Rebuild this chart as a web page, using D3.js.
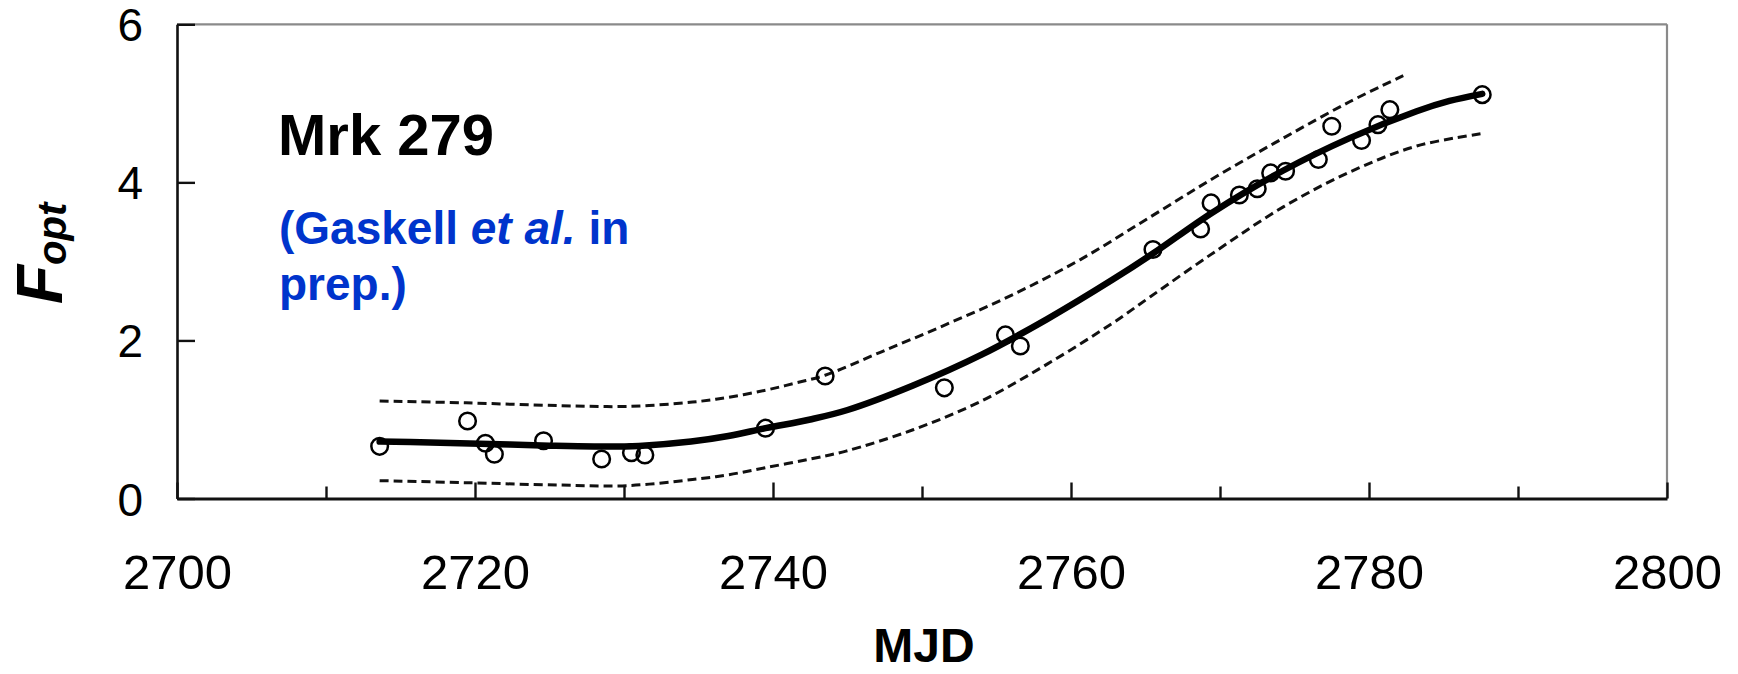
<!DOCTYPE html>
<html>
<head>
<meta charset="utf-8">
<script src="https://cdn.jsdelivr.net/npm/d3@7"></script>
<style>
  html, body { margin: 0; padding: 0; background: #fff; }
  svg { display: block; }
  text { font-family: "Liberation Sans", Arial, Helvetica, sans-serif; }
</style>
</head>
<body>
<svg id="chart" width="1738" height="674"></svg>
<script>
// ---- data ----
const obsMJD  = [2713.6, 2719.5, 2720.7, 2721.3, 2724.6, 2728.5, 2730.5, 2731.4, 2739.5, 2743.5,
                 2751.5, 2755.6, 2756.6, 2765.5, 2768.7, 2769.4, 2771.3, 2772.5, 2773.4, 2774.4,
                 2776.6, 2777.5, 2779.5, 2780.6, 2781.4, 2787.6];
const obsFlux = [0.66, 0.98, 0.70, 0.56, 0.73, 0.50, 0.58, 0.55, 0.89, 1.55,
                 1.40, 2.07, 1.93, 3.15, 3.41, 3.74, 3.84, 3.92, 4.12, 4.14,
                 4.29, 4.71, 4.53, 4.73, 4.92, 5.11];

const fitMJD  = [2713.6, 2717, 2721, 2725, 2728, 2731, 2734.5, 2737, 2739.5, 2742.5, 2745,
                 2749.4, 2754, 2758.4, 2762.8, 2765.5, 2769.5, 2774.25, 2778.7, 2783.2, 2785.4, 2787.6];
const fitFlux = [0.72, 0.71, 0.69, 0.668, 0.658, 0.665, 0.72, 0.79, 0.89, 1.00, 1.12,
                 1.43, 1.82, 2.27, 2.77, 3.10, 3.62, 4.15, 4.56, 4.90, 5.03, 5.12];

const upperMJD  = [2713.6, 2719.4, 2725.7, 2730.2, 2734.6, 2737, 2739.5, 2741.5, 2743.5, 2747.2,
                   2751.6, 2756.1, 2760.6, 2765.3, 2769.8, 2774.25, 2778.7, 2782.3];
const upperFlux = [1.234, 1.21, 1.175, 1.165, 1.22, 1.28, 1.37, 1.46, 1.56, 1.85,
                   2.20, 2.58, 3.02, 3.56, 4.08, 4.56, 5.02, 5.35];

const lowerMJD  = [2713.6, 2719.4, 2725.7, 2730.2, 2734.6, 2737, 2739.5, 2742.5, 2744.9, 2749.4,
                   2753.9, 2758.4, 2762.8, 2765.3, 2769.8, 2774.25, 2778.7, 2783.2, 2787.7];
const lowerFlux = [0.226, 0.20, 0.17, 0.163, 0.24, 0.30, 0.39, 0.50, 0.60, 0.87,
                   1.225, 1.70, 2.22, 2.55, 3.14, 3.69, 4.13, 4.46, 4.62];

const xMajorTicks = [2700, 2720, 2740, 2760, 2780, 2800];
const xMinorTicks = [2710, 2730, 2750, 2770, 2790];
const yTicks = [0, 2, 4, 6];

// ---- layout ----
const svg = d3.select("#chart");
const x = d3.scaleLinear().domain([2700, 2800]).range([177, 1667]);
const y = d3.scaleLinear().domain([0, 6]).range([498.5, 24.3]);

const [x0, x1] = x.range();
const [yb, yt] = y.range();

// grey top and right frame
svg.append("line").attr("x1", x0).attr("x2", x1).attr("y1", yt).attr("y2", yt)
  .attr("stroke", "#8a8a8a").attr("stroke-width", 2.2);
svg.append("line").attr("x1", x1).attr("x2", x1).attr("y1", yt).attr("y2", yb)
  .attr("stroke", "#8a8a8a").attr("stroke-width", 2.2);

// bottom axis: major ticks with labels
const gxMajor = svg.append("g").attr("transform", `translate(0,${yb})`)
  .call(d3.axisBottom(x).tickValues(xMajorTicks).tickSizeInner(-16).tickSizeOuter(0).tickPadding(56)
        .tickFormat(d3.format("d")));
// minor ticks
const gxMinor = svg.append("g").attr("transform", `translate(0,${yb})`)
  .call(d3.axisBottom(x).tickValues(xMinorTicks).tickSizeInner(-12).tickSizeOuter(0).tickFormat(""));
gxMinor.select(".domain").remove();

[gxMajor, gxMinor].forEach(g => {
  g.selectAll(".tick line").attr("stroke", "#111").attr("stroke-width", 2.4);
});
gxMajor.select(".domain").attr("stroke", "#111").attr("stroke-width", 2.8);
gxMajor.selectAll(".tick text")
  .attr("font-size", 49).attr("fill", "#000")
  .attr("dy", 0).attr("y", 90);

// left axis
const gy = svg.append("g").attr("transform", `translate(${x0},0)`)
  .call(d3.axisLeft(y).tickValues(yTicks).tickSizeInner(-18).tickSizeOuter(0).tickPadding(34)
        .tickFormat(d3.format("d")));
gy.select(".domain").attr("stroke", "#111").attr("stroke-width", 2.6);
gy.selectAll(".tick line").attr("stroke", "#111").attr("stroke-width", 2.4);
gy.selectAll(".tick text").attr("font-size", 46).attr("fill", "#000").attr("dy", "0.36em");

// ---- curves ----
const line = d3.line().x(d => x(d[0])).y(d => y(d[1])).curve(d3.curveCatmullRom.alpha(0.5));

svg.append("path").datum(d3.zip(upperMJD, upperFlux)).attr("d", line)
  .attr("fill", "none").attr("stroke", "#111").attr("stroke-width", 3)
  .attr("stroke-dasharray", "9,5");
svg.append("path").datum(d3.zip(lowerMJD, lowerFlux)).attr("d", line)
  .attr("fill", "none").attr("stroke", "#111").attr("stroke-width", 3)
  .attr("stroke-dasharray", "9,5");
svg.append("path").datum(d3.zip(fitMJD, fitFlux)).attr("d", line)
  .attr("fill", "none").attr("stroke", "#000").attr("stroke-width", 6.5)
  .attr("stroke-linecap", "round");

// ---- observations ----
svg.append("g").selectAll("circle").data(d3.zip(obsMJD, obsFlux)).join("circle")
  .attr("cx", d => x(d[0])).attr("cy", d => y(d[1])).attr("r", 8.3)
  .attr("fill", "none").attr("stroke", "#000").attr("stroke-width", 2.5);

// ---- labels ----
svg.append("text").attr("x", (x0 + x1) / 2 + 2).attr("y", 662)
  .attr("text-anchor", "middle").attr("font-size", 48).attr("font-weight", "bold")
  .attr("fill", "#000").text("MJD");

const yl = svg.append("text")
  .attr("transform", "translate(62,304) rotate(-90)")
  .attr("font-weight", "bold").attr("font-style", "italic").attr("fill", "#000");
yl.append("tspan").attr("font-size", 64).text("F");
yl.append("tspan").attr("font-size", 40).attr("dy", 4).text("opt");

svg.append("text").attr("x", 278).attr("y", 155)
  .attr("font-size", 58).attr("font-weight", "bold").attr("fill", "#000").text("Mrk 279");

const blue = "#0034cc";
const t1 = svg.append("text").attr("x", 279).attr("y", 244)
  .attr("font-size", 46).attr("font-weight", "bold").attr("fill", blue);
t1.append("tspan").text("(Gaskell ");
t1.append("tspan").attr("font-style", "italic").text("et al.");
t1.append("tspan").text(" in");
svg.append("text").attr("x", 279).attr("y", 300)
  .attr("font-size", 46).attr("font-weight", "bold").attr("fill", blue).text("prep.)");
</script>
</body>
</html>
